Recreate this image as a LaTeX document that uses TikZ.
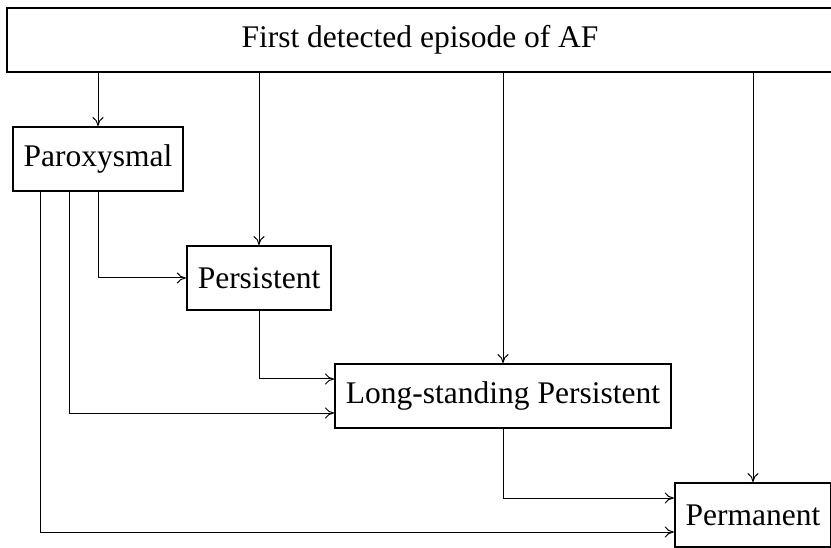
\documentclass[tikz,border=0pt]{standalone}
\usepackage{fontspec}
\setmainfont{Liberation Serif}
\usetikzlibrary{arrows.meta}
\begin{document}
\begin{tikzpicture}[x=1pt,y=-1pt,
  box/.style={draw,line width=1.8pt,minimum height=64pt,inner xsep=11pt,font=\fontsize{31.5}{38}\selectfont},
  conn/.style={line width=1pt,-{To[length=9pt,width=11pt]}}]
\useasboundingbox (0,0) rectangle (831,548);
\node[box,minimum width=826pt] (top) at (420,40) {First detected episode of AF};
\node[box] (par) at (98,159) {Paroxysmal};
\node[box] (pers) at (259,278) {Persistent};
\node[box] (long) at (503,396) {Long-standing Persistent};
\node[box] (perm) at (753,515) {Permanent};
\draw[conn] (top.south -| par.north) -- (par.north);
\draw[conn] (top.south -| pers.north) -- (pers.north);
\draw[conn] (top.south -| long.north) -- (long.north);
\draw[conn] (top.south -| perm.north) -- (perm.north);
\draw[conn] (par.south) |- (pers.west);
\draw[conn] ([xshift=-29pt]par.south) |- ([yshift=-17pt]long.west);
\draw[conn] (pers.south) |- ([yshift=17pt]long.west);
\draw[conn] ([xshift=-58pt]par.south) |- ([yshift=-17pt]perm.west);
\draw[conn] (long.south) |- ([yshift=17pt]perm.west);
\end{tikzpicture}
\end{document}
